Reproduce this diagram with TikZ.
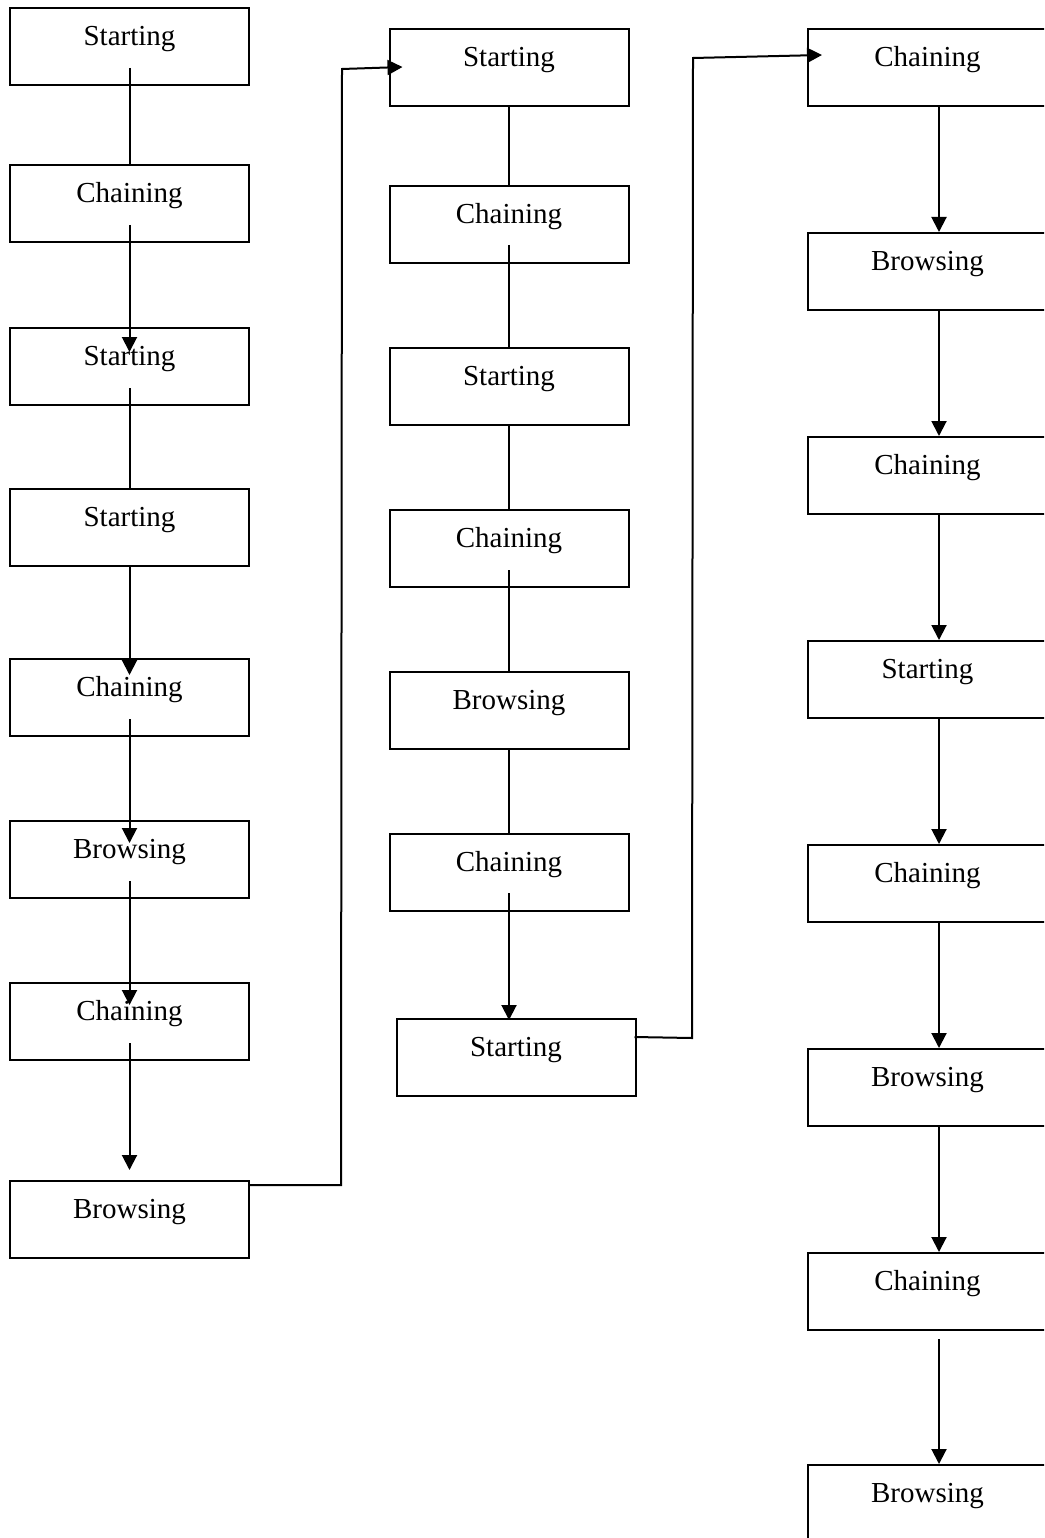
\documentclass[tikz,border=0pt]{standalone}
\usepackage{fontspec}
\setmainfont{Liberation Serif}
\usetikzlibrary{arrows.meta,calc}
\begin{document}
\begin{tikzpicture}[x=1pt,y=-1pt,
  box/.style={draw,line width=2pt,rectangle,inner sep=0pt,minimum width=239pt,minimum height=77pt,
    text height=37.5pt,text depth=39.5pt,anchor=north,font=\fontsize{29pt}{34pt}\selectfont},
  conn/.style={line width=2pt},
  arr/.style={line width=2pt,-{Triangle[length=15pt,width=15pt]}}]
\useasboundingbox (0,0) rectangle (1044,1538);
\clip (0,0) rectangle (1044,1538);
% left column
\node[box] (L1) at (129.5,7) {Starting};
\node[box] (L2) at (129.5,164) {Chaining};
\node[box] (L3) at (129.5,327) {Starting};
\node[box] (L4) at (129.5,488) {Starting};
\node[box] (L5) at (129.5,658) {Chaining};
\node[box] (L6) at (129.5,820) {Browsing};
\node[box] (L7) at (129.5,982) {Chaining};
\node[box] (L8) at (129.5,1180) {Browsing};
% middle column
\node[box] (M1) at (509,28) {Starting};
\node[box] (M2) at (509,185) {Chaining};
\node[box] (M3) at (509,347) {Starting};
\node[box] (M4) at (509,509) {Chaining};
\node[box] (M5) at (509,671) {Browsing};
\node[box] (M6) at (509,833) {Chaining};
\node[box] (M7) at (516,1018) {Starting};
% right column
\node[box] (R1) at (927.5,28) {Chaining};
\node[box] (R2) at (927.5,232) {Browsing};
\node[box] (R3) at (927.5,436) {Chaining};
\node[box] (R4) at (927.5,640) {Starting};
\node[box] (R5) at (927.5,844) {Chaining};
\node[box] (R6) at (927.5,1048) {Browsing};
\node[box] (R7) at (927.5,1252) {Chaining};
\node[box] (R8) at (927.5,1464) {Browsing};
% left connectors
\draw[conn] ([yshift=-61pt]L1.north) -- (L2.north);
\draw[arr] ([yshift=-61pt]L2.north) -- ([yshift=-25pt]L3.north);
\draw[conn] ([yshift=-61pt]L3.north) -- (L4.north);
\draw[arr] (L4.south) -- ([yshift=-17pt]L5.north);
\draw[arr] ([yshift=-61pt]L5.north) -- ([yshift=-23pt]L6.north);
\draw[arr] ([yshift=-61pt]L6.north) -- ([yshift=-23pt]L7.north);
\draw[arr] ([yshift=-61pt]L7.north) -- ([yshift=10pt]L8.north);
\coordinate (c1) at (341,1185);
\coordinate (c2) at (342,69);
\draw[arr] ([yshift=-5pt]L8.north east) -- (c1) -- (c2) -- ([xshift=14pt,yshift=-39pt]M1.north west);
% middle connectors
\draw[conn] (M1.south) -- (M2.north);
\draw[conn] ([yshift=-60pt]M2.north) -- (M3.north);
\draw[conn] (M3.south) -- (M4.north);
\draw[conn] ([yshift=-61pt]M4.north) -- (M5.north);
\draw[conn] (M5.south) -- (M6.north);
\draw[arr] ([yshift=-60pt]M6.north) -- ($(M6.north |- M7.north)+(0,2)$);
\coordinate (c3) at (692,1038);
\coordinate (c4) at (693,58);
\draw[arr] ([xshift=-2pt,yshift=-19pt]M7.north east) -- (c3) -- (c4) -- ([xshift=15pt,yshift=-27pt]R1.north west);
% right connectors
\draw[arr] ([xshift=11.5pt]R1.south) -- ([xshift=11.5pt]R2.north);
\draw[arr] ([xshift=11.5pt]R2.south) -- ([xshift=11.5pt]R3.north);
\draw[arr] ([xshift=11.5pt]R3.south) -- ([xshift=11.5pt]R4.north);
\draw[arr] ([xshift=11.5pt]R4.south) -- ([xshift=11.5pt]R5.north);
\draw[arr] ([xshift=11.5pt]R5.south) -- ([xshift=11.5pt]R6.north);
\draw[arr] ([xshift=11.5pt]R6.south) -- ([xshift=11.5pt]R7.north);
\draw[arr] ([xshift=11.5pt,yshift=-8pt]R7.south) -- ([xshift=11.5pt]R8.north);
\end{tikzpicture}
\end{document}
